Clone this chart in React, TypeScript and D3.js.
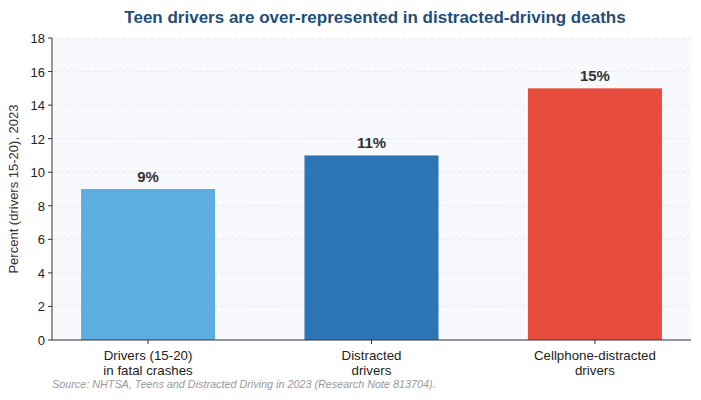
import React from "react";
import * as d3 from "d3";

const categories = ["Drivers (15-20)\nin fatal crashes", "Distracted\ndrivers", "Cellphone-distracted\ndrivers"];
const values = [9, 11, 15];
const colors = ["#5DADE2", "#2E75B6", "#E74C3C"];
const yTicks = [0, 2, 4, 6, 8, 10, 12, 14, 16, 18];

const W = 701;
const H = 400;
const left = 52;
const right = 691;
const top = 38;
const bottom = 340;
const font = "'Liberation Sans', Arial, sans-serif";

const App = () => {
  const x = d3.scaleLinear().domain([-0.43, 2.43]).range([left, right]);
  const y = d3.scaleLinear().domain([0, 18]).range([bottom, top]);
  const barW = x(0.6) - x(0);

  return (
    <svg width={W} height={H} style={{ position: "absolute", left: 0, top: 0 }} fontFamily={font}>
      <rect x={0} y={0} width={W} height={H} fill="#fff" />
      <rect x={left} y={top} width={right - left} height={bottom - top} fill="#f8f9fc" />
      <text x={375} y={23} textAnchor="middle" fontSize={17} fontWeight="bold" fill="#1f4e79">
        Teen drivers are over-represented in distracted-driving deaths
      </text>
      {yTicks.map((t) => (
        <g key={t} transform={`translate(0,${y(t)})`}>
          {t > 0 && (
            <line x1={left} x2={right} stroke="#e3e6ec" strokeDasharray="4,3" strokeWidth={0.8} />
          )}
          <line x1={left - 4} x2={left} stroke="#333" />
          <text x={left - 7} y={5} textAnchor="end" fontSize={13} fill="#222">
            {t}
          </text>
        </g>
      ))}
      {values.map((v, i) => (
        <g key={i}>
          <rect x={x(i) - barW / 2} y={y(v)} width={barW} height={bottom - y(v)} fill={colors[i]} />
          <text x={x(i)} y={y(v) - 7} textAnchor="middle" fontSize={15} fontWeight="bold" fill="#333">
            {v}%
          </text>
          <line x1={x(i)} x2={x(i)} y1={bottom} y2={bottom + 4} stroke="#333" />
          {categories[i].split("\n").map((s, j) => (
            <text key={j} x={x(i)} y={bottom + 20 + j * 14.5} textAnchor="middle" fontSize={13.3} fill="#222">
              {s}
            </text>
          ))}
        </g>
      ))}
      <line x1={left} x2={left} y1={top} y2={bottom} stroke="#333" />
      <line x1={left} x2={right} y1={bottom} y2={bottom} stroke="#333" />
      <text
        transform={`translate(18,${(top + bottom) / 2}) rotate(-90)`}
        textAnchor="middle"
        fontSize={13}
        fill="#333"
      >
        Percent (drivers 15-20), 2023
      </text>
      <text x={52} y={388} fontSize={10.8} fontStyle="italic" fill="#999">
        Source: NHTSA, Teens and Distracted Driving in 2023 (Research Note 813704).
      </text>
    </svg>
  );
};

export default App;
